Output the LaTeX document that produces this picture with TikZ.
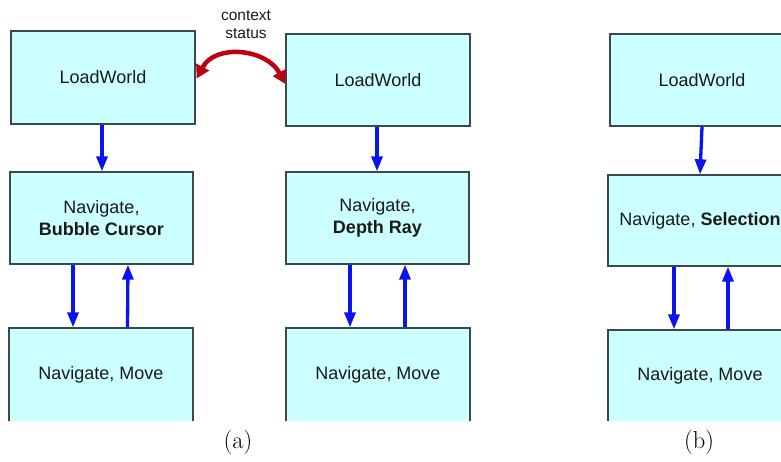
\documentclass[tikz,border=0pt]{standalone}
\usepackage{fontspec}
\newfontfamily\boxfont{Liberation Sans}
\usetikzlibrary{arrows.meta}
\definecolor{boxfill}{HTML}{CCFFFF}
\definecolor{boxline}{HTML}{3A4A4A}
\definecolor{flowblue}{HTML}{0A14F0}
\definecolor{ctxred}{HTML}{C00010}
\definecolor{txt}{HTML}{1A1A1A}
\begin{document}
\begin{tikzpicture}[x=1pt,y=-1pt,
  state/.style={draw=boxline,line width=1.3pt,fill=boxfill,
    minimum width=184pt,minimum height=93pt,inner sep=0pt,
    align=center,text=txt,font=\boxfont\fontsize{18}{22}\selectfont},
  flow/.style={draw=flowblue,line width=3.3pt,
    -{Triangle[width=11pt,length=15pt]}},
  ctx/.style={draw=ctxred,line width=4.5pt,
    {Triangle[width=14pt,length=13pt]}-{Triangle[width=14pt,length=13pt]}},
  caption/.style={font=\fontsize{24.5}{29}\selectfont}]
\useasboundingbox (0,0) rectangle (781,462);

% state boxes; the lowest row is cut off at the bottom
\begin{scope}
  \clip (-20,-20) rectangle (820,420.5);
  % (a) left
  \node[state] (a1) at (103,77.5) {LoadWorld};
  \node[state,minimum width=183pt,minimum height=92pt] (a2) at (101.5,218)
    {Navigate,\\\bfseries Bubble Cursor};
  \node[state,minimum height=94pt] (a3) at (101,375) {Navigate, Move};
  % (a) right
  \node[state,minimum height=92pt] (b1) at (378,80) {LoadWorld};
  \node[state,minimum width=183pt,minimum height=92pt] (b2) at (377.5,218)
    {Navigate,\\\bfseries Depth Ray};
  \node[state,minimum height=94pt] (b3) at (378,375) {Navigate, Move};
  % (b)
  \node[state,minimum height=92pt] (c1) at (702,80) {LoadWorld};
  \node[state,minimum height=91pt] (c2) at (700,220.5)
    {Navigate, \textbf{Selection}};
  \node[state,minimum height=92pt] (c3) at (700,376) {Navigate, Move};
\end{scope}

% transitions
\draw[flow] ([xshift=-1pt]a1.south) -- ([xshift=0.5pt]a2.north);
\draw[flow] ([xshift=-28.5pt]a2.south) -- ([xshift=-28pt]a3.north);
\draw[flow] ([xshift=26.5pt]a3.north) -- ([xshift=26.5pt]a2.south);
\draw[flow] ([xshift=-1pt]b1.south) -- ([xshift=-0.5pt]b2.north);
\draw[flow] ([xshift=-27.5pt]b2.south) -- ([xshift=-28pt]b3.north);
\draw[flow] ([xshift=27pt]b3.north) -- ([xshift=27.5pt]b2.south);
\draw[flow] (c1.south) -- (c2.north);
\draw[flow] ([xshift=-26pt]c2.south) -- ([xshift=-26pt]c3.north);
\draw[flow] ([xshift=28pt]c3.north) -- ([xshift=28pt]c2.south);

% shared context status between the two worlds
\draw[ctx] ([xshift=1pt,yshift=-1pt]a1.east) to[out=62,in=118,looseness=1.15]
  ([yshift=-4pt]b1.west);
\node[text=txt,font=\boxfont\fontsize{15.5}{18}\selectfont,align=center]
  (ctxlabel) at (246,25) {context\\status};

% sub-figure captions
\node[caption] (capa) at (238,442) {(a)};
\node[caption] (capb) at (699,442) {(b)};
\end{tikzpicture}
\end{document}
